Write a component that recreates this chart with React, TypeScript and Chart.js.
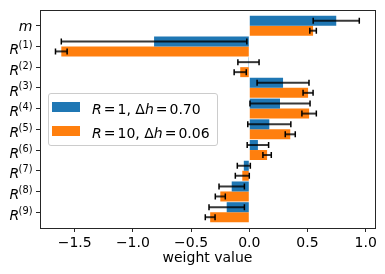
import React, { useEffect, useRef } from 'react';
import { Chart, registerables } from 'chart.js';

Chart.register(...registerables);

// ---- data ----
const categories = ['m', 'R^(1)', 'R^(2)', 'R^(3)', 'R^(4)', 'R^(5)', 'R^(6)', 'R^(7)', 'R^(8)', 'R^(9)'];
const seriesNames = ['R = 1, Δh = 0.70', 'R = 10, Δh = 0.06'];
const blueValues = [0.747, -0.818, -0.007, 0.29, 0.264, 0.172, 0.074, -0.047, -0.151, -0.194];
const blueErrors = [0.198, 0.797, 0.091, 0.223, 0.258, 0.185, 0.092, 0.056, 0.109, 0.152];
const orangeValues = [0.548, -1.615, -0.078, 0.505, 0.514, 0.352, 0.153, -0.06, -0.249, -0.336];
const orangeErrors = [0.028, 0.05, 0.052, 0.043, 0.062, 0.043, 0.036, 0.06, 0.043, 0.042];
const xTicks = [-1.5, -1.0, -0.5, 0.0, 0.5, 1.0];
const xTitle = 'weight value';

const BLUE = '#1f77b4';
const ORANGE = '#ff7f0e';
const FONT = "'DejaVu Sans', sans-serif";
const errorsByDataset = [blueErrors, orangeErrors];

const errorBarPlugin = {
  id: 'errorBars',
  afterDatasetsDraw(chart: any) {
    const ctx = chart.ctx;
    const xs = chart.scales.x;
    chart.data.datasets.forEach((ds: any, di: number) => {
      const meta = chart.getDatasetMeta(di);
      const errs = errorsByDataset[di];
      meta.data.forEach((el: any, i: number) => {
        const v = ds.data[i].x;
        const e = errs[i];
        const x1 = xs.getPixelForValue(v - e);
        const x2 = xs.getPixelForValue(v + e);
        const y = el.y;
        ctx.save();
        ctx.strokeStyle = 'rgba(0,0,0,0.78)';
        ctx.lineWidth = 2;
        ctx.beginPath();
        ctx.moveTo(x1, y);
        ctx.lineTo(x2, y);
        ctx.stroke();
        ctx.strokeStyle = '#000';
        ctx.lineWidth = 1.5;
        ctx.beginPath();
        ctx.moveTo(x1, y - 3);
        ctx.lineTo(x1, y + 3);
        ctx.moveTo(x2, y - 3);
        ctx.lineTo(x2, y + 3);
        ctx.stroke();
        ctx.restore();
      });
    });
  },
};

// y tick labels with italic base and upright superscript (math style)
const yLabelPlugin = {
  id: 'yLabels',
  afterDraw(chart: any) {
    const ctx = chart.ctx;
    const ys = chart.scales.y;
    const right = ys.right - 4 - 3.5;
    ctx.save();
    ctx.fillStyle = '#000';
    ctx.textBaseline = 'alphabetic';
    categories.forEach((lab, i) => {
      const y = ys.getPixelForValue(i);
      const [base, sup] = lab.split('^');
      if (!sup) {
        ctx.font = `italic 14px ${FONT}`;
        ctx.textAlign = 'right';
        ctx.fillText(base, right, y + 5.5);
      } else {
        ctx.font = `9.8px ${FONT}`;
        const sw = ctx.measureText(sup).width;
        ctx.textAlign = 'left';
        ctx.fillText(sup, right - sw, y + 1.5);
        ctx.font = `italic 14px ${FONT}`;
        ctx.textAlign = 'right';
        ctx.fillText(base, right - sw + 0.5, y + 7.7);
      }
    });
    ctx.restore();
  },
};

const framePlugin = {
  id: 'frame',
  afterDraw(chart: any) {
    const { left, right, top, bottom } = chart.chartArea;
    const ctx = chart.ctx;
    ctx.save();
    ctx.strokeStyle = '#262626';
    ctx.lineWidth = 1;
    ctx.strokeRect(Math.round(left) + 0.5, Math.round(top) + 0.5, Math.round(right) - Math.round(left), Math.round(bottom) - Math.round(top));
    ctx.restore();
  },
};

export default function App() {
  const ref = useRef<HTMLCanvasElement | null>(null);

  useEffect(() => {
    if (!ref.current) return;
    const chart = new Chart(ref.current, {
      type: 'bar',
      data: {
        datasets: [
          {
            label: seriesNames[0],
            data: blueValues.map((v, i) => ({ x: v, y: i })),
            backgroundColor: BLUE,
            borderWidth: 0,
          },
          {
            label: seriesNames[1],
            data: orangeValues.map((v, i) => ({ x: v, y: i })),
            backgroundColor: ORANGE,
            borderWidth: 0,
          },
        ],
      },
      options: {
        indexAxis: 'y',
        responsive: false,
        animation: false,
        devicePixelRatio: 1,
        categoryPercentage: 0.965,
        barPercentage: 1,
        layout: { padding: { top: 10, right: 10, left: 0, bottom: 0 } },
        plugins: { legend: { display: false }, tooltip: { enabled: false } },
        scales: {
          y: {
            type: 'linear',
            reverse: true,
            min: -0.758,
            max: 9.763,
            offset: false,
            afterBuildTicks: (s: any) => {
              s.ticks = categories.map((_, i) => ({ value: i }));
            },
            afterFit: (s: any) => {
              s.width = 40;
            },
            ticks: {
              display: false,
              autoSkip: false,
              callback: (v: any) => categories[v],
            },
            grid: { display: true, drawOnChartArea: false, drawTicks: true, tickLength: 4, tickColor: '#262626', offset: false },
            border: { display: false },
          },
          x: {
            type: 'linear',
            min: -1.798,
            max: 1.08,
            afterBuildTicks: (s: any) => {
              s.ticks = xTicks.map((v) => ({ value: v }));
            },
            afterFit: (s: any) => {
              s.height = 46;
            },
            ticks: {
              autoSkip: false,
              maxRotation: 0,
              padding: 3,
              color: '#000',
              font: { family: FONT, size: 14 },
              callback: (v: any) => Number(v).toFixed(1).replace('-', '\u2212'),
            },
            grid: { display: true, drawOnChartArea: false, drawTicks: true, tickLength: 4, tickColor: '#262626' },
            border: { display: false },
            title: {
              display: true,
              text: xTitle,
              color: '#000',
              font: { family: FONT, size: 14 },
              padding: { top: 0, bottom: 7.5 },
            },
          },
        },
      },
      plugins: [errorBarPlugin, yLabelPlugin, framePlugin],
    } as any);
    return () => chart.destroy();
  }, []);

  const eq = { margin: '0 2px' };
  const legendText = (r: string, dh: string) => (
    <span>
      <i>R</i>
      <span style={eq}>=</span>
      {r}, Δ<i>h</i>
      <span style={eq}>=</span>
      {dh}
    </span>
  );

  return (
    <div style={{ position: 'absolute', left: 0, top: 0, width: 385, height: 274, background: '#fff' }}>
      <canvas ref={ref} width={385} height={274} style={{ display: 'block' }} />
      <div
        style={{
          position: 'absolute',
          left: 48,
          top: 93,
          width: 168,
          height: 51,
          background: 'rgba(255,255,255,0.8)',
          border: '1px solid #cccccc',
          borderRadius: 3,
          fontFamily: FONT,
          fontSize: 14,
          color: '#000',
        }}
      >
        <div style={{ position: 'absolute', left: 3, top: 8, width: 28, height: 10, background: BLUE }} />
        <div style={{ position: 'absolute', left: 43, top: 7.5, lineHeight: '14px', whiteSpace: 'nowrap' }}>
          {legendText('1', '0.70')}
        </div>
        <div style={{ position: 'absolute', left: 3, top: 32, width: 28, height: 10, background: ORANGE }} />
        <div style={{ position: 'absolute', left: 43, top: 31.5, lineHeight: '14px', whiteSpace: 'nowrap' }}>
          {legendText('10', '0.06')}
        </div>
      </div>
    </div>
  );
}
